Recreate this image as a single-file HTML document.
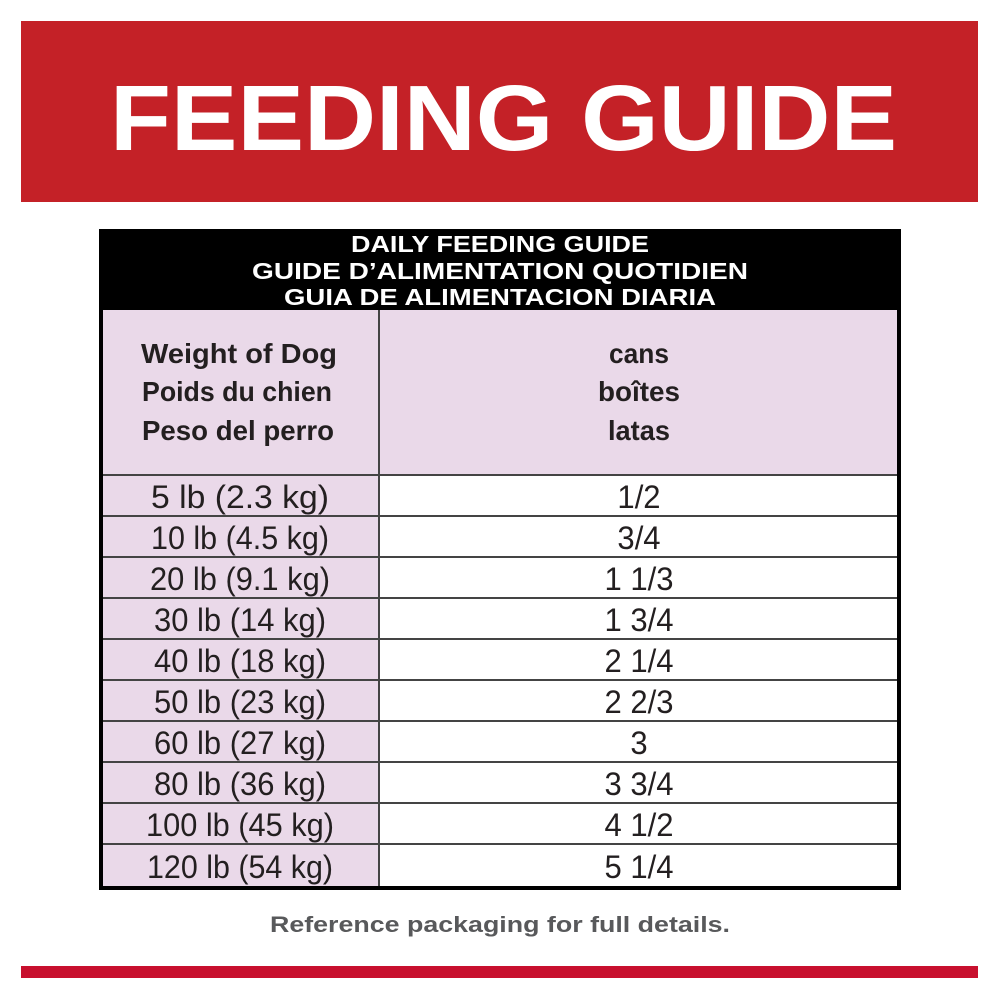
<!DOCTYPE html>
<html><head><meta charset="utf-8"><style>
body{margin:0;width:1000px;height:1000px;background:#fff;position:relative;overflow:hidden;font-family:"Liberation Sans",sans-serif}
.a{position:absolute}
</style></head><body>
<div class="a" style="left:21px;top:21px;width:957px;height:181px;background:#c42127"></div>
<svg class="a" style="left:0;top:0" width="1000" height="1000">
<text x="110" y="150" font-family="Liberation Sans" font-weight="bold" font-size="93" fill="#fff" textLength="787" lengthAdjust="spacingAndGlyphs">FEEDING GUIDE</text>
</svg>
<div class="a" style="left:99px;top:229px;width:802px;height:661px;background:#000"></div>
<div class="a" style="left:103px;top:310px;width:275px;height:576px;background:#ead9e9"></div>
<div class="a" style="left:379px;top:310px;width:518px;height:165px;background:#ead9e9"></div>
<div class="a" style="left:379px;top:476px;width:518px;height:410px;background:#fff"></div>
<div class="a" style="left:378px;top:310px;width:2px;height:576px;background:#444"></div>
<div class="a" style="left:103px;top:474px;width:794px;height:2px;background:#444"></div>
<svg class="a" style="left:0;top:0" width="1000" height="1000" font-family="Liberation Sans">
<g fill="#fff" font-weight="bold" font-size="23" text-anchor="middle">
<text x="500" y="252" textLength="298" lengthAdjust="spacingAndGlyphs">DAILY FEEDING GUIDE</text>
<text x="500" y="279" textLength="496" lengthAdjust="spacingAndGlyphs">GUIDE D’ALIMENTATION QUOTIDIEN</text>
<text x="500" y="305" textLength="432" lengthAdjust="spacingAndGlyphs">GUIA DE ALIMENTACION DIARIA</text>
</g>
<g fill="#231f20" font-weight="bold" font-size="28" text-anchor="middle">
<text x="239" y="363" textLength="196" lengthAdjust="spacingAndGlyphs">Weight of Dog</text>
<text x="237" y="401" textLength="190" lengthAdjust="spacingAndGlyphs">Poids du chien</text>
<text x="238" y="440" textLength="192" lengthAdjust="spacingAndGlyphs">Peso del perro</text>
<text x="639" y="363" textLength="60" lengthAdjust="spacingAndGlyphs">cans</text>
<text x="639" y="401" textLength="82" lengthAdjust="spacingAndGlyphs">boîtes</text>
<text x="639" y="440" textLength="62" lengthAdjust="spacingAndGlyphs">latas</text>
</g>
<g fill="#231f20" font-size="32" text-anchor="middle">
<text x="240" y="508" textLength="178" lengthAdjust="spacingAndGlyphs">5 lb (2.3 kg)</text>
<text x="240" y="549" textLength="178" lengthAdjust="spacingAndGlyphs">10 lb (4.5 kg)</text>
<text x="240" y="590" textLength="180" lengthAdjust="spacingAndGlyphs">20 lb (9.1 kg)</text>
<text x="240" y="631" textLength="172" lengthAdjust="spacingAndGlyphs">30 lb (14 kg)</text>
<text x="240" y="672" textLength="172" lengthAdjust="spacingAndGlyphs">40 lb (18 kg)</text>
<text x="240" y="713" textLength="172" lengthAdjust="spacingAndGlyphs">50 lb (23 kg)</text>
<text x="240" y="754" textLength="172" lengthAdjust="spacingAndGlyphs">60 lb (27 kg)</text>
<text x="240" y="795" textLength="172" lengthAdjust="spacingAndGlyphs">80 lb (36 kg)</text>
<text x="240" y="836" textLength="188" lengthAdjust="spacingAndGlyphs">100 lb (45 kg)</text>
<text x="240" y="878" textLength="186" lengthAdjust="spacingAndGlyphs">120 lb (54 kg)</text>
<g transform="translate(639,0) scale(0.97,1)">
<text x="0" y="508">1/2</text>
<text x="0" y="549">3/4</text>
<text x="0" y="590">1 1/3</text>
<text x="0" y="631">1 3/4</text>
<text x="0" y="672">2 1/4</text>
<text x="0" y="713">2 2/3</text>
<text x="0" y="754">3</text>
<text x="0" y="795">3 3/4</text>
<text x="0" y="836">4 1/2</text>
<text x="0" y="878">5 1/4</text>
</g>
</g>
<g stroke="#444" stroke-width="2">
<line x1="103" y1="516" x2="897" y2="516"/><line x1="103" y1="557" x2="897" y2="557"/>
<line x1="103" y1="598" x2="897" y2="598"/><line x1="103" y1="639" x2="897" y2="639"/>
<line x1="103" y1="680" x2="897" y2="680"/><line x1="103" y1="721" x2="897" y2="721"/>
<line x1="103" y1="762" x2="897" y2="762"/><line x1="103" y1="803" x2="897" y2="803"/>
<line x1="103" y1="844" x2="897" y2="844"/>
</g>
<text x="500" y="932" text-anchor="middle" fill="#58595b" font-weight="bold" font-size="22" textLength="460" lengthAdjust="spacingAndGlyphs">Reference packaging for full details.</text>
</svg>
<div class="a" style="left:21px;top:966px;width:957px;height:12px;background:#c8102e"></div>
</body></html>
